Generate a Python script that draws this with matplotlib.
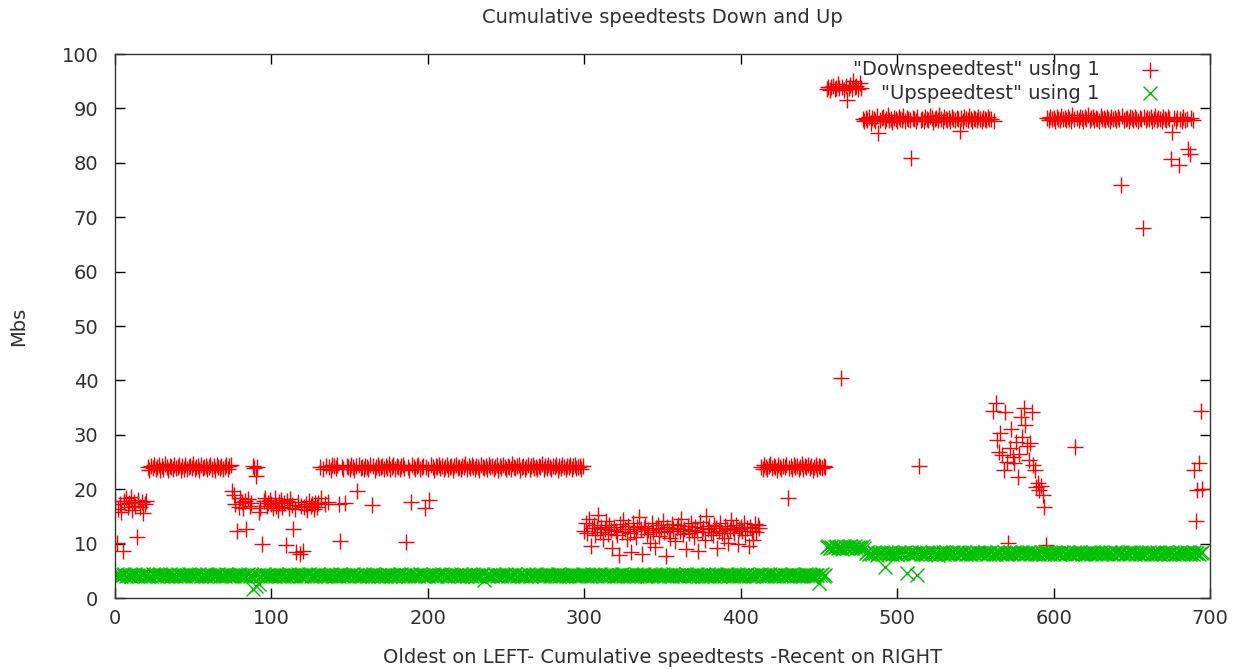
import matplotlib
matplotlib.use("Agg")
import matplotlib.pyplot as plt

title = "Cumulative speedtests Down and Up"
xlabel = "Oldest on LEFT- Cumulative speedtests -Recent on RIGHT"
ylabel = "Mbs"
legend_down = '"Downspeedtest" using 1'
legend_up = '"Upspeedtest" using 1'
xticks = [0, 100, 200, 300, 400, 500, 600, 700]
yticks = [0, 10, 20, 30, 40, 50, 60, 70, 80, 90, 100]

down = [
    17.8, 10.2, 16.4, 17.3, 15.9, 8.6, 17.9, 18.4, 16.8, 17.5,
    18.6, 16.2, 17.7, 17.0, 11.3, 18.1, 16.7, 17.6, 15.7, 17.3,
    17.9, 24.1, 23.6, 24.3, 23.9, 24.5, 23.7, 24.0, 24.4, 23.5,
    24.2, 23.8, 24.6, 24.0, 23.6, 24.3, 24.1, 23.7, 24.5, 23.9,
    24.0, 24.4, 23.6, 24.2, 23.8, 24.5, 23.7, 24.1, 24.3, 23.9,
    24.6, 23.8, 24.0, 24.2, 23.5, 24.4, 23.9, 24.1, 24.3, 23.7,
    24.0, 24.5, 23.8, 24.2, 23.6, 24.4, 24.0, 23.9, 24.3, 23.7,
    24.1, 24.4, 23.8, 24.2, 24.5, 19.6, 18.9, 17.2, 12.4, 16.8,
    18.3, 17.6, 16.5, 17.9, 12.6, 18.2, 16.9, 17.4, 24.2, 23.9,
    22.4, 24.1, 15.8, 16.6, 10.0, 17.8, 18.4, 16.9, 17.5, 18.1,
    17.2, 16.5, 18.3, 17.0, 16.2, 17.7, 18.0, 16.8, 17.4, 9.8,
    17.9, 16.6, 18.2, 17.1, 12.6, 16.4, 8.4, 17.6, 8.0, 17.0,
    8.6, 16.7, 17.3, 16.2, 17.8, 16.9, 17.2, 16.4, 17.5, 16.8,
    17.4, 24.1, 18.4, 23.8, 17.2, 24.3, 17.6, 24.0, 23.6, 24.4,
    24.2, 23.9, 24.5, 17.3, 10.4, 24.0, 23.7, 17.5, 24.3, 24.1,
    23.8, 24.4, 24.0, 23.6, 24.2, 19.6, 24.5, 23.9, 24.1, 23.7,
    24.3, 24.0, 23.8, 24.4, 17.1, 24.2, 23.6, 24.1, 24.5, 23.9,
    24.0, 24.3, 23.7, 24.2, 23.9, 24.6, 23.8, 24.1, 24.4, 23.7,
    24.2, 24.0, 23.8, 24.3, 24.5, 23.9, 10.3, 24.1, 23.6, 17.6,
    24.4, 24.0, 23.8, 24.2, 24.5, 23.7, 24.1, 24.3, 16.6, 24.0,
    23.8, 18.0, 24.4, 24.1, 23.6, 24.3, 24.0, 24.5, 23.9, 24.2,
    23.7, 24.1, 24.4, 23.8, 24.0, 24.3, 23.6, 24.2, 24.5, 23.9,
    24.1, 23.8, 24.3, 24.0, 24.6, 23.7, 24.2, 23.9, 24.4, 24.0,
    23.8, 24.3, 24.1, 23.6, 24.5, 24.0, 23.9, 24.2, 23.7, 24.4,
    24.0, 24.3, 23.8, 24.1, 24.5, 23.6, 24.2, 23.9, 24.4, 24.0,
    23.7, 24.3, 24.1, 23.8, 24.6, 24.0, 23.9, 24.2, 24.4, 23.6,
    24.1, 24.3, 23.8, 24.0, 24.5, 23.7, 24.2, 24.4, 23.9, 24.1,
    23.8, 24.3, 24.0, 24.6, 23.7, 24.2, 23.9, 24.4, 24.1, 23.8,
    24.3, 24.0, 24.5, 23.6, 24.2, 23.9, 24.4, 24.1, 23.7, 24.3,
    24.0, 24.5, 23.8, 24.2, 24.4, 23.9, 24.1, 24.3, 23.8, 24.2,
    12.4, 13.8, 11.9, 14.6, 9.6, 12.8, 13.5, 11.6, 12.9, 15.2,
    12.2, 13.1, 10.8, 12.6, 14.1, 11.8, 13.4, 12.5, 9.1, 13.0,
    12.3, 11.5, 7.9, 13.6, 12.1, 14.4, 12.7, 10.9, 13.2, 12.0,
    8.4, 13.7, 12.4, 11.2, 13.0, 14.8, 12.6, 8.1, 12.9, 13.3,
    11.7, 12.5, 10.2, 13.8, 12.2, 9.4, 12.8, 13.5, 11.4, 12.6,
    14.2, 12.1, 7.8, 13.1, 12.4, 11.0, 13.6, 12.7, 10.4, 12.9,
    13.4, 12.3, 14.5, 11.8, 12.6, 9.0, 13.2, 12.0, 13.7, 12.5,
    11.3, 13.0, 12.4, 8.7, 13.9, 12.2, 12.8, 10.6, 15.0, 12.6,
    13.3, 12.1, 11.6, 13.5, 12.9, 9.2, 12.4, 13.8, 12.0, 11.1,
    13.2, 12.7, 10.1, 12.5, 14.3, 12.9, 11.9, 13.4, 9.9, 12.6,
    13.0, 12.3, 13.7, 11.5, 12.8, 9.6, 13.1, 12.4, 10.7, 13.6,
    12.2, 13.4, 12.9, 24.1, 23.8, 24.4, 24.0, 23.7, 24.3, 24.6,
    23.9, 24.2, 24.0, 23.6, 24.5, 24.1, 23.8, 24.3, 24.0, 24.4,
    18.4, 23.9, 24.2, 23.7, 24.5, 24.0, 24.3, 23.8, 24.1, 24.6,
    23.7, 24.2, 24.0, 24.4, 23.9, 24.3, 23.6, 24.1, 24.5, 23.8,
    24.2, 24.0, 23.9, 24.3, 24.1, 93.6, 94.0, 93.4, 93.9, 94.2,
    93.5, 93.8, 94.4, 93.7, 40.4, 93.9, 93.3, 94.1, 91.6, 93.8,
    94.3, 93.6, 95.0, 93.9, 94.1, 93.5, 94.6, 93.8, 88.1, 87.6,
    88.3, 87.9, 88.5, 87.4, 88.2, 88.0, 87.7, 88.6, 85.5, 87.9,
    88.2, 88.4, 87.6, 88.0, 88.7, 87.8, 88.1, 87.5, 88.3, 88.0,
    87.7, 88.4, 88.1, 87.9, 88.6, 87.6, 88.2, 88.0, 87.8, 80.9,
    88.3, 88.0, 87.7, 88.5, 24.2, 87.9, 88.1, 87.6, 88.4, 88.0,
    87.8, 88.6, 88.2, 87.5, 88.0, 88.3, 87.9, 88.7, 88.1, 87.7,
    88.4, 88.0, 87.8, 88.2, 87.6, 88.5, 88.1, 87.9, 88.3, 88.0,
    85.8, 88.2, 87.7, 88.4, 88.0, 87.9, 88.6, 88.1, 87.6, 88.3,
    88.0, 87.8, 88.5, 88.1, 87.7, 88.3, 88.0, 87.9, 88.4, 88.1,
    88.1, 34.3, 87.7, 35.8, 29.0, 26.8, 30.4, 26.3, 23.5, 34.2,
    25.0, 10.2, 27.5, 31.1, 25.9, 24.8, 28.7, 22.2, 26.4, 33.3,
    29.6, 35.0, 31.8, 27.9, 25.4, 28.5, 34.2, 24.4, 23.5, 20.4,
    21.2, 19.9, 20.6, 18.9, 16.7, 9.8, 88.2, 87.9, 88.4, 88.0,
    88.3, 87.7, 88.5, 88.1, 87.9, 88.6, 88.0, 88.2, 87.8, 88.4,
    88.1, 87.6, 88.7, 88.0, 27.7, 88.3, 87.9, 88.5, 88.2, 87.7,
    88.4, 88.0, 88.8, 87.8, 88.2, 88.5, 87.9, 88.3, 88.1, 87.6,
    88.6, 88.0, 88.3, 87.8, 88.4, 88.1, 87.7, 88.5, 88.0, 88.2,
    87.9, 88.4, 88.1, 75.9, 88.6, 87.8, 88.0, 88.3, 87.7, 88.5,
    88.2, 87.9, 88.4, 88.0, 87.6, 88.3, 88.1, 68.0, 88.5, 87.8,
    88.2, 88.0, 88.4, 87.7, 88.1, 88.6, 87.9, 88.3, 88.0, 87.6,
    88.4, 88.1, 87.8, 88.5, 88.0, 80.7, 85.6, 88.2, 87.7, 88.3,
    79.6, 88.0, 87.6, 88.4, 87.9, 88.1, 82.5, 81.6, 88.2, 87.8,
    23.6, 14.2, 19.8, 24.9, 34.4, 20.1,
]

up = [
    4.2, 4.4, 4.1, 4.3, 4.0, 4.2, 4.5, 4.1, 4.3, 4.2,
    4.0, 4.3, 4.2, 4.4, 4.1, 4.2, 4.0, 4.3, 4.5, 4.1,
    4.3, 4.1, 4.2, 4.0, 4.4, 4.2, 4.3, 4.1, 4.2, 4.4,
    4.1, 4.2, 4.3, 4.0, 4.2, 4.4, 4.1, 4.3, 4.2, 4.0,
    4.4, 4.2, 4.1, 4.3, 4.2, 4.0, 4.3, 4.5, 4.2, 4.1,
    4.2, 4.3, 4.0, 4.2, 4.4, 4.1, 4.2, 4.3, 4.1, 4.4,
    4.3, 4.0, 4.2, 4.1, 4.3, 4.2, 4.4, 4.0, 4.2, 4.3,
    4.1, 4.4, 4.2, 4.3, 4.0, 4.2, 4.1, 4.3, 4.2, 4.4,
    4.2, 4.1, 4.3, 4.0, 4.2, 4.4, 4.1, 4.3, 1.6, 4.2,
    2.2, 4.3, 2.6, 4.1, 4.2, 4.4, 4.0, 4.3, 4.2, 4.1,
    4.3, 4.2, 4.0, 4.4, 4.2, 4.1, 4.3, 4.2, 4.0, 4.3,
    4.1, 4.4, 4.2, 4.3, 4.1, 4.0, 4.2, 4.4, 4.3, 4.1,
    4.2, 4.0, 4.3, 4.2, 4.4, 4.1, 4.2, 4.3, 4.0, 4.2,
    4.4, 4.1, 4.3, 4.2, 4.0, 4.3, 4.1, 4.2, 4.4, 4.2,
    4.1, 4.3, 4.2, 4.0, 4.4, 4.2, 4.1, 4.3, 4.2, 4.0,
    4.3, 4.2, 4.4, 4.1, 4.2, 4.3, 4.0, 4.2, 4.1, 4.4,
    4.2, 4.3, 4.1, 4.2, 4.0, 4.4, 4.2, 4.3, 4.1, 4.2,
    4.0, 4.2, 4.3, 4.1, 4.4, 4.2, 4.0, 4.3, 4.2, 4.1,
    4.3, 4.1, 4.2, 4.4, 4.0, 4.2, 4.3, 4.1, 4.2, 4.4,
    4.2, 4.0, 4.3, 4.2, 4.1, 4.4, 4.2, 4.3, 4.0, 4.2,
    4.1, 4.3, 4.2, 4.4, 4.2, 4.1, 4.0, 4.3, 4.2, 4.4,
    4.3, 4.2, 4.1, 4.0, 4.2, 4.4, 4.3, 4.1, 4.2, 4.0,
    4.2, 4.4, 4.1, 4.3, 4.2, 4.0, 4.3, 4.2, 4.1, 4.4,
    4.0, 4.2, 4.3, 4.1, 4.2, 4.4, 3.3, 4.2, 4.3, 4.1,
    4.2, 4.0, 4.4, 4.2, 4.1, 4.3, 4.2, 4.0, 4.3, 4.2,
    4.4, 4.1, 4.2, 4.3, 4.0, 4.2, 4.4, 4.1, 4.3, 4.2,
    4.1, 4.3, 4.2, 4.0, 4.4, 4.2, 4.1, 4.3, 4.2, 4.4,
    4.2, 4.1, 4.3, 4.2, 4.0, 4.3, 4.4, 4.2, 4.1, 4.2,
    4.3, 4.0, 4.2, 4.4, 4.1, 4.2, 4.3, 4.2, 4.0, 4.3,
    4.1, 4.2, 4.4, 4.2, 4.3, 4.0, 4.2, 4.1, 4.3, 4.4,
    4.2, 4.3, 4.1, 4.2, 4.0, 4.4, 4.2, 4.3, 4.1, 4.2,
    4.4, 4.2, 4.0, 4.3, 4.2, 4.1, 4.3, 4.4, 4.2, 4.0,
    4.2, 4.1, 4.3, 4.2, 4.4, 4.0, 4.2, 4.3, 4.1, 4.2,
    4.3, 4.2, 4.0, 4.4, 4.1, 4.2, 4.3, 4.2, 4.4, 4.1,
    4.0, 4.3, 4.2, 4.1, 4.2, 4.4, 4.3, 4.0, 4.2, 4.2,
    4.4, 4.1, 4.2, 4.3, 4.0, 4.2, 4.1, 4.4, 4.2, 4.3,
    4.2, 4.0, 4.3, 4.2, 4.1, 4.4, 4.2, 4.0, 4.3, 4.1,
    4.3, 4.2, 4.4, 4.1, 4.2, 4.0, 4.3, 4.2, 4.1, 4.4,
    4.1, 4.3, 4.2, 4.0, 4.4, 4.2, 4.3, 4.1, 4.2, 4.0,
    4.2, 4.4, 4.1, 4.3, 4.2, 4.0, 4.2, 4.3, 4.4, 4.1,
    4.3, 4.2, 4.0, 4.2, 4.4, 4.1, 4.3, 4.2, 4.1, 4.2,
    4.0, 4.3, 4.2, 4.4, 4.1, 4.2, 4.3, 4.0, 4.2, 4.4,
    4.2, 4.1, 4.3, 4.2, 4.0, 4.4, 4.2, 4.1, 4.3, 4.2,
    4.3, 4.0, 4.2, 4.4, 4.1, 4.2, 4.3, 4.2, 4.0, 4.3,
    4.1, 4.2, 4.4, 4.3, 4.2, 4.0, 4.2, 4.1, 4.3, 4.2,
    2.7, 4.2, 4.4, 4.1, 4.3, 9.3, 9.5, 9.2, 9.4, 9.1,
    9.3, 9.6, 9.2, 9.4, 9.3, 9.0, 9.5, 9.3, 9.2, 9.4,
    9.6, 9.1, 9.3, 9.5, 9.2, 9.4, 9.3, 9.1, 9.5, 9.2,
    8.2, 8.4, 8.0, 8.3, 8.1, 8.5, 8.2, 7.9, 8.3, 8.2,
    8.4, 8.1, 5.7, 8.3, 8.0, 8.2, 8.5, 8.1, 8.3, 8.2,
    8.0, 8.4, 8.2, 8.1, 8.3, 8.5, 4.6, 8.2, 8.0, 8.4,
    8.1, 8.3, 8.2, 4.2, 8.4, 8.0, 8.2, 8.3, 8.1, 8.5,
    8.2, 8.0, 8.3, 8.4, 8.1, 8.2, 7.9, 8.3, 8.2, 8.5,
    8.1, 8.4, 8.2, 8.0, 8.3, 8.2, 8.4, 8.1, 8.5, 8.2,
    8.0, 8.3, 8.2, 8.4, 8.1, 8.2, 8.3, 8.0, 8.5, 8.2,
    8.1, 8.4, 8.2, 8.3, 8.0, 8.2, 8.4, 8.1, 8.3, 8.2,
    8.5, 8.1, 8.2, 8.0, 8.4, 8.3, 8.2, 8.1, 8.4, 8.2,
    8.0, 8.3, 8.5, 8.2, 8.1, 8.4, 8.2, 8.3, 8.0, 8.2,
    8.4, 8.1, 8.3, 8.2, 8.5, 8.0, 8.2, 8.4, 8.1, 8.3,
    8.2, 8.0, 8.4, 8.3, 8.1, 8.2, 8.5, 8.2, 8.0, 8.3,
    8.1, 8.4, 8.2, 8.3, 8.0, 8.2, 8.4, 8.1, 8.2, 8.5,
    8.3, 8.2, 8.0, 8.4, 8.1, 8.3, 8.2, 8.4, 8.1, 8.2,
    8.0, 8.3, 8.2, 8.5, 8.1, 8.4, 8.2, 8.0, 8.3, 8.2,
    8.4, 8.1, 8.3, 8.2, 8.0, 8.2, 8.4, 8.3, 8.1, 8.5,
    8.2, 8.0, 8.3, 8.2, 8.4, 8.1, 8.2, 8.3, 8.0, 8.4,
    8.2, 8.5, 8.1, 8.3, 8.2, 8.0, 8.4, 8.2, 8.1, 8.3,
    8.2, 8.4, 8.0, 8.2, 8.3, 8.1, 8.4, 8.2, 8.0, 8.3,
    8.1, 8.2, 8.5, 8.3, 8.0, 8.2, 8.4, 8.1, 8.3, 8.2,
    8.0, 8.4, 8.2, 8.1, 8.3, 8.5, 8.2, 8.0, 8.3, 8.1,
    8.4, 8.2, 8.3, 8.1, 8.2, 8.4,
]

RED = "#ff0000"
GREEN = "#00c000"
TEXT = "#303030"
FS = 14

plt.rcParams["font.family"] = ["DejaVu Sans"]
fig = plt.figure(figsize=(12.33, 6.70), dpi=100)
ax = fig.add_axes([115 / 1233, 1 - 598 / 670, 1095 / 1233, 544 / 670])

xd = list(range(len(down)))
xu = list(range(len(up)))
ax.plot(xd, down, linestyle="none", marker="+", markersize=11.5,
        markeredgewidth=1.0, color=RED)
ax.plot(xu, up, linestyle="none", marker="x", markersize=10.5,
        markeredgewidth=1.0, color=GREEN)

ax.set_xlim(0, 700)
ax.set_ylim(0, 100)
ax.set_xticks(xticks)
ax.set_yticks(yticks)
ax.tick_params(direction="in", length=7, width=1.0, top=True, right=True,
               labelsize=FS, colors="black", labelcolor=TEXT)
ax.tick_params(axis="y", pad=12)
ax.tick_params(axis="x", pad=8)
for s in ax.spines.values():
    s.set_linewidth(1.0)
    s.set_color("#333333")

ax.set_title(title, fontsize=FS, color=TEXT, pad=22)
ax.set_xlabel(xlabel, fontsize=FS, color=TEXT, labelpad=14)
ax.set_ylabel(ylabel, fontsize=FS, color=TEXT, labelpad=24)

# key (gnuplot style, text right-aligned, sample marker to the right)
ax.text(0.899, 0.9706, legend_down, transform=ax.transAxes, ha="right",
        va="center", fontsize=FS, color=TEXT)
ax.text(0.899, 0.928, legend_up, transform=ax.transAxes, ha="right",
        va="center", fontsize=FS, color=TEXT)
ax.plot([0.945], [0.9706], transform=ax.transAxes, marker="+", markersize=11.5,
        markeredgewidth=1.0, color=RED, linestyle="none", clip_on=False)
ax.plot([0.945], [0.928], transform=ax.transAxes, marker="x", markersize=10.5,
        markeredgewidth=1.0, color=GREEN, linestyle="none", clip_on=False)

fig.savefig("out.png", dpi=100)
